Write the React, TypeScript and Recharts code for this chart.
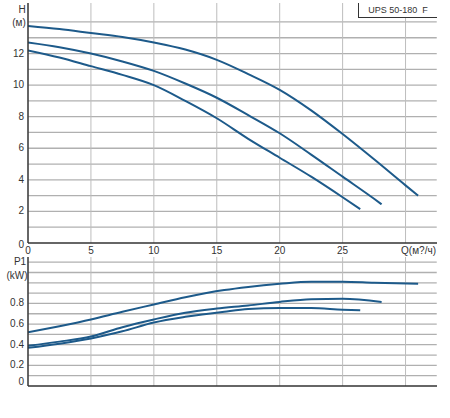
import React from "react";
import { LineChart, Line, XAxis, YAxis } from "recharts";

// flow Q (m3/h) ticks shared by both panels
const qTicks = [0, 5, 10, 15, 20, 25, 30];
const hTicks = [0, 1, 2, 3, 4, 5, 6, 7, 8, 9, 10, 11, 12, 13, 14];
const pTicks = [0, 0.1, 0.2, 0.3, 0.4, 0.5, 0.6, 0.7, 0.8, 0.9, 1.0, 1.1, 1.2];

// head curves, speed 3 / 2 / 1
const head3 = [
  { q: 0, v: 13.75 }, { q: 2.5, v: 13.55 }, { q: 5, v: 13.3 }, { q: 7.5, v: 13.05 },
  { q: 10, v: 12.7 }, { q: 12.5, v: 12.25 }, { q: 15, v: 11.6 }, { q: 17.5, v: 10.7 },
  { q: 20, v: 9.7 }, { q: 22.5, v: 8.4 }, { q: 25, v: 6.9 }, { q: 27.5, v: 5.3 },
  { q: 30, v: 3.65 }, { q: 31, v: 3.0 },
];
const head2 = [
  { q: 0, v: 12.7 }, { q: 2.5, v: 12.4 }, { q: 5, v: 12.0 }, { q: 7.5, v: 11.5 },
  { q: 10, v: 10.9 }, { q: 12.5, v: 10.1 }, { q: 15, v: 9.2 }, { q: 17.5, v: 8.1 },
  { q: 20, v: 6.95 }, { q: 22.5, v: 5.6 }, { q: 25, v: 4.2 }, { q: 27.5, v: 2.8 },
  { q: 28.1, v: 2.45 },
];
const head1 = [
  { q: 0, v: 12.2 }, { q: 2.5, v: 11.75 }, { q: 5, v: 11.2 }, { q: 7.5, v: 10.65 },
  { q: 10, v: 10.0 }, { q: 12.5, v: 9.0 }, { q: 15, v: 7.9 }, { q: 17.5, v: 6.6 },
  { q: 20, v: 5.4 }, { q: 22.5, v: 4.2 }, { q: 25, v: 2.9 }, { q: 26.4, v: 2.15 },
];

// power curves
const power3 = [
  { q: 0, v: 0.52 }, { q: 2.5, v: 0.58 }, { q: 5, v: 0.645 }, { q: 7.5, v: 0.72 },
  { q: 10, v: 0.79 }, { q: 12.5, v: 0.86 }, { q: 15.6, v: 0.93 }, { q: 17.5, v: 0.96 },
  { q: 20, v: 0.99 }, { q: 22.5, v: 1.01 }, { q: 25, v: 1.01 }, { q: 27.5, v: 1.0 },
  { q: 31, v: 0.99 },
];
const power2 = [
  { q: 0, v: 0.39 }, { q: 2.5, v: 0.43 }, { q: 5, v: 0.48 }, { q: 7.5, v: 0.57 },
  { q: 10, v: 0.645 }, { q: 12.5, v: 0.71 }, { q: 15, v: 0.75 }, { q: 17.5, v: 0.78 },
  { q: 20, v: 0.815 }, { q: 22.5, v: 0.84 }, { q: 25, v: 0.845 }, { q: 28.1, v: 0.815 },
];
const power1 = [
  { q: 0, v: 0.37 }, { q: 2.5, v: 0.41 }, { q: 5, v: 0.46 }, { q: 7.5, v: 0.53 },
  { q: 10, v: 0.615 }, { q: 12.5, v: 0.67 }, { q: 15.6, v: 0.72 }, { q: 17.5, v: 0.745 },
  { q: 20, v: 0.755 }, { q: 22.5, v: 0.755 }, { q: 25, v: 0.74 }, { q: 26.4, v: 0.735 },
];

const Q_MAX = 32.5;
const H_MAX = 15.2;
const P_MAX = 1.25;

const W = 450;
const RIGHT = 13;
const LINE = "#1d5a8a";
const GRID = "#bdbdbd";
const GRID_H = "#b0b0b0";
const AXIS = "#333";
const BORDER = "#777";
const FONT = "'Liberation Sans', Arial, sans-serif";
const txt = { fontFamily: FONT, fontSize: 10, fill: "#333" };

const QTick = ({ x, y, payload }: any) => {
  const v = payload.value;
  return (
    <text x={v === 30 ? x + 13 : x} y={y + 3} textAnchor="middle" style={txt}>
      {v === 30 ? "Q(м?/ч)" : v}
    </text>
  );
};

const HTick = ({ x, y, payload }: any) => {
  const v = payload.value;
  if (v === 14) {
    return (
      <g>
        <text x={x + 2} y={y - 9} textAnchor="middle" style={txt}>H</text>
        <text x={x - 1} y={y + 4} textAnchor="middle" style={txt}>(м)</text>
      </g>
    );
  }
  if (v % 2 !== 0 || v > 12) return null;
  return (
    <text x={x + 4} y={y + (v === 0 ? 5 : 3)} textAnchor="end" style={txt}>
      {v}
    </text>
  );
};

const PTick = ({ x, y, payload }: any) => {
  const v = Math.round(payload.value * 10);
  if (v === 12) {
    return <text x={x} y={y + 3} textAnchor="middle" style={txt}>P1</text>;
  }
  if (v === 11) {
    return <text x={x - 3} y={y + 7} textAnchor="middle" style={txt}>(kW)</text>;
  }
  if (v % 2 !== 0 || v > 8) return null;
  return (
    <text x={x + 4} y={y + (v === 0 ? -1 : 3)} textAnchor="end" style={txt}>
      {v === 0 ? "0" : (v / 10).toFixed(1)}
    </text>
  );
};

// grid drawn as thin series through the chart scales
const gridLines = (yTicks: number[], yMax: number) => {
  const cols = qTicks.filter((t) => t > 0).map((t) => (
    <Line
      key={"c" + t}
      data={[{ q: t, v: 0 }, { q: t, v: yMax }]}
      dataKey="v"
      type="linear"
      stroke={GRID}
      strokeWidth={1}
      dot={false}
      activeDot={false}
      isAnimationActive={false}
    />
  ));
  const rows = yTicks.filter((t) => t > 0).map((t) => (
    <Line
      key={"r" + t}
      data={[{ q: 0.02, v: t }, { q: Q_MAX / 3, v: t }, { q: (2 * Q_MAX) / 3, v: t }, { q: Q_MAX - 0.02, v: t }]}
      dataKey="v"
      type="linear"
      stroke={GRID_H}
      strokeWidth={1.3}
      dot={false}
      activeDot={false}
      isAnimationActive={false}
    />
  ));
  return [...rows, ...cols];
};

// top and right frame of a panel, drawn as bare axes
const frame = (yMax: number) => [
  <XAxis
    key="ft"
    xAxisId="top"
    orientation="top"
    type="number"
    domain={[0, Q_MAX]}
    height={0}
    tick={false}
    tickLine={false}
    axisLine={{ stroke: BORDER }}
  />,
  <YAxis
    key="fr"
    yAxisId="right"
    orientation="right"
    type="number"
    domain={[0, yMax]}
    width={0}
    tick={false}
    tickLine={false}
    axisLine={{ stroke: BORDER }}
  />,
];

const curve = (data: { q: number; v: number }[]) => (
  <Line data={data} dataKey="v" type="monotone" stroke={LINE} strokeWidth={2} dot={false} activeDot={false} isAnimationActive={false} />
);

export default function App() {
  return (
    <div style={{ position: "absolute", left: 0, top: 0, width: 450, height: 418, background: "#fff" }}>
      <div style={{ position: "absolute", left: 0, top: 0 }}>
        <LineChart width={W} height={260} margin={{ top: 3, right: RIGHT, left: 0, bottom: 0 }}>
          <XAxis
            type="number"
            dataKey="q"
            domain={[0, Q_MAX]}
            ticks={qTicks}
            height={17}
            tick={<QTick />}
            tickLine={false}
            axisLine={{ stroke: AXIS, strokeWidth: 1.5 }}
            allowDataOverflow
          />
          <YAxis
            type="number"
            domain={[0, H_MAX]}
            ticks={hTicks}
            width={28}
            tick={<HTick />}
            tickLine={false}
            axisLine={{ stroke: AXIS, strokeWidth: 1.5 }}
            interval={0}
            allowDataOverflow
          />
          {frame(H_MAX)}
          {gridLines(hTicks, H_MAX)}
          {curve(head3)}
          {curve(head2)}
          {curve(head1)}
        </LineChart>
      </div>
      <div
        style={{
          position: "absolute",
          left: 358,
          top: 3,
          width: 78,
          height: 14,
          border: "1px solid #333",
          borderTop: "none",
          borderRight: "none",
          background: "#fff",
          fontFamily: FONT,
          fontSize: 9,
          color: "#333",
          lineHeight: "14px",
          textAlign: "center",
          whiteSpace: "pre",
        }}
      >
        UPS 50-180  F
      </div>
      <div style={{ position: "absolute", left: 0, top: 255 }}>
        <LineChart width={W} height={163} margin={{ top: 2, right: RIGHT, left: 0, bottom: 22 }}>
          <XAxis
            type="number"
            dataKey="q"
            domain={[0, Q_MAX]}
            ticks={qTicks}
            height={10}
            tick={false}
            tickLine={false}
            axisLine={{ stroke: AXIS, strokeWidth: 1.5 }}
            allowDataOverflow
          />
          <YAxis
            type="number"
            domain={[0, P_MAX]}
            ticks={pTicks}
            width={28}
            tick={<PTick />}
            tickLine={false}
            axisLine={{ stroke: AXIS, strokeWidth: 1.5 }}
            interval={0}
            allowDataOverflow
          />
          {frame(P_MAX)}
          {gridLines(pTicks, P_MAX)}
          {curve(power3)}
          {curve(power2)}
          {curve(power1)}
        </LineChart>
      </div>
    </div>
  );
}
